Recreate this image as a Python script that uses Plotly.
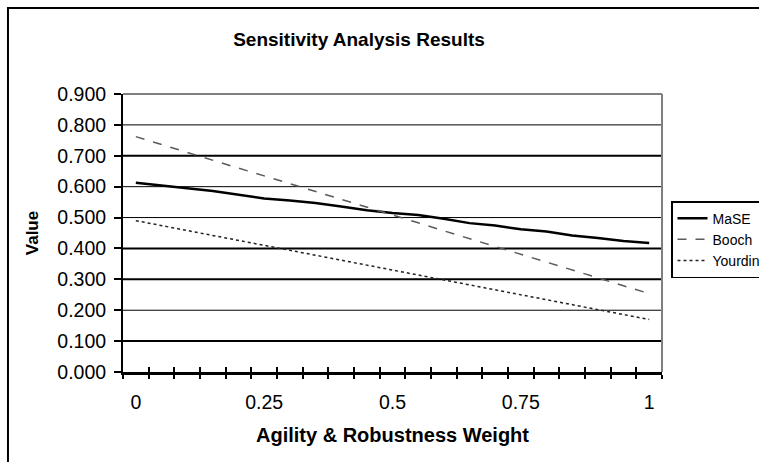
import plotly.graph_objects as go

# Weight given to agility & robustness (category axis, 21 steps)
weights = [0.00, 0.05, 0.10, 0.15, 0.20, 0.25, 0.30, 0.35, 0.40, 0.45, 0.50,
           0.55, 0.60, 0.65, 0.70, 0.75, 0.80, 0.85, 0.90, 0.95, 1.00]

mase = [0.613, 0.603, 0.595, 0.586, 0.575, 0.562, 0.555, 0.547, 0.536, 0.524, 0.515,
        0.508, 0.496, 0.482, 0.474, 0.462, 0.455, 0.442, 0.434, 0.424, 0.418]
booch = [0.762, 0.736, 0.711, 0.686, 0.660, 0.635, 0.610, 0.584, 0.559, 0.533, 0.508,
         0.483, 0.457, 0.432, 0.406, 0.381, 0.356, 0.330, 0.305, 0.279, 0.254]
yourdin = [0.490, 0.474, 0.458, 0.442, 0.426, 0.410, 0.394, 0.378, 0.362, 0.346, 0.330,
           0.314, 0.298, 0.282, 0.266, 0.250, 0.234, 0.218, 0.202, 0.186, 0.170]

x_tick_vals = [0.0, 0.25, 0.5, 0.75, 1.0]
x_tick_text = ["0", "0.25", "0.5", "0.75", "1"]

grid_levels = [0.1, 0.2, 0.3, 0.4, 0.5, 0.6, 0.7, 0.8]
grid_widths = [2, 1, 2, 2, 1, 1, 2, 1]

FONT = "Liberation Sans, Arial, sans-serif"

# tick marks sit on the boundaries between categories
half = (weights[1] - weights[0]) / 2
boundaries = [w - half for w in weights] + [weights[-1] + half]
x_range = [boundaries[0], boundaries[-1]]

fig = go.Figure()
fig.add_trace(go.Scatter(x=weights, y=mase, name="MaSE", mode="lines",
                         line=dict(color="black", width=2.5)))
fig.add_trace(go.Scatter(x=weights, y=booch, name="Booch", mode="lines",
                         line=dict(color="#5a5a5a", width=1.5, dash="dash")))
fig.add_trace(go.Scatter(x=weights, y=yourdin, name="Yourdin", mode="lines",
                         line=dict(color="#222222", width=1.5, dash="dot")))
# carrier for the inner half of the category tick marks
fig.add_trace(go.Scatter(x=weights, y=mase, xaxis="x2", mode="lines",
                         line=dict(width=0), opacity=0, showlegend=False,
                         hoverinfo="skip"))

shapes = []
for lvl, w in zip(grid_levels, grid_widths):
    shapes.append(dict(type="line", xref="paper", yref="y", x0=0, x1=1,
                       y0=lvl, y1=lvl, line=dict(color="black", width=w),
                       layer="below"))
# plot-area frame (top and right in grey)
shapes.append(dict(type="line", xref="paper", yref="paper", x0=0, x1=1, y0=1, y1=1,
                   line=dict(color="#808080", width=2)))
shapes.append(dict(type="line", xref="paper", yref="paper", x0=1, x1=1, y0=0, y1=1,
                   line=dict(color="#808080", width=2)))
# chart-area frame
shapes.append(dict(type="rect", xref="paper", yref="paper", x0=-0.2134, x1=2.0,
                   y0=-1.0, y1=1.309, line=dict(color="black", width=2)))

fig.update_layout(
    width=759, height=462,
    margin=dict(l=123, r=97, t=94, b=90, autoexpand=False),
    paper_bgcolor="white", plot_bgcolor="white",
    font=dict(family=FONT, color="black"),
    title=dict(text="<b>Sensitivity Analysis Results</b>", x=359 / 759, xanchor="center",
               y=1 - 39 / 462, yanchor="middle", yref="container",
               font=dict(size=19, family=FONT, color="black")),
    xaxis=dict(range=x_range, tickmode="array", tickvals=x_tick_vals,
               ticktext=x_tick_text, ticks="", showgrid=False, zeroline=False,
               showline=True, linecolor="black", linewidth=2.5,
               tickfont=dict(size=19.5, family=FONT), ticklabelstandoff=11,
               minor=dict(tickmode="array", tickvals=boundaries, ticks="outside",
                          ticklen=4, tickwidth=2, tickcolor="black", showgrid=False),
               title=dict(text="<b>Agility & Robustness Weight</b>", standoff=16,
                          font=dict(size=20, family=FONT))),
    xaxis2=dict(range=x_range, overlaying="x", anchor="y", side="bottom",
                tickmode="array", tickvals=boundaries, ticks="inside", ticklen=5,
                tickwidth=2, tickcolor="black", showticklabels=False,
                showgrid=False, zeroline=False, showline=False),
    yaxis=dict(range=[0, 0.9], dtick=0.1, tickformat=".3f", showgrid=False,
               zeroline=False, showline=True, linecolor="black", linewidth=2,
               ticks="outside", ticklen=7, tickwidth=1.5, tickcolor="black",
               tickfont=dict(size=19.5, family=FONT), ticklabelstandoff=4,
               title=dict(text="<b>Value</b>", standoff=14,
                          font=dict(size=17, family=FONT))),
    legend=dict(x=1.0167, y=0.615, xanchor="left", yanchor="top",
                bordercolor="black", borderwidth=1.5, bgcolor="white",
                font=dict(size=14, family=FONT), tracegroupgap=0),
    shapes=shapes,
    showlegend=True,
)

fig.write_html("out.html")
